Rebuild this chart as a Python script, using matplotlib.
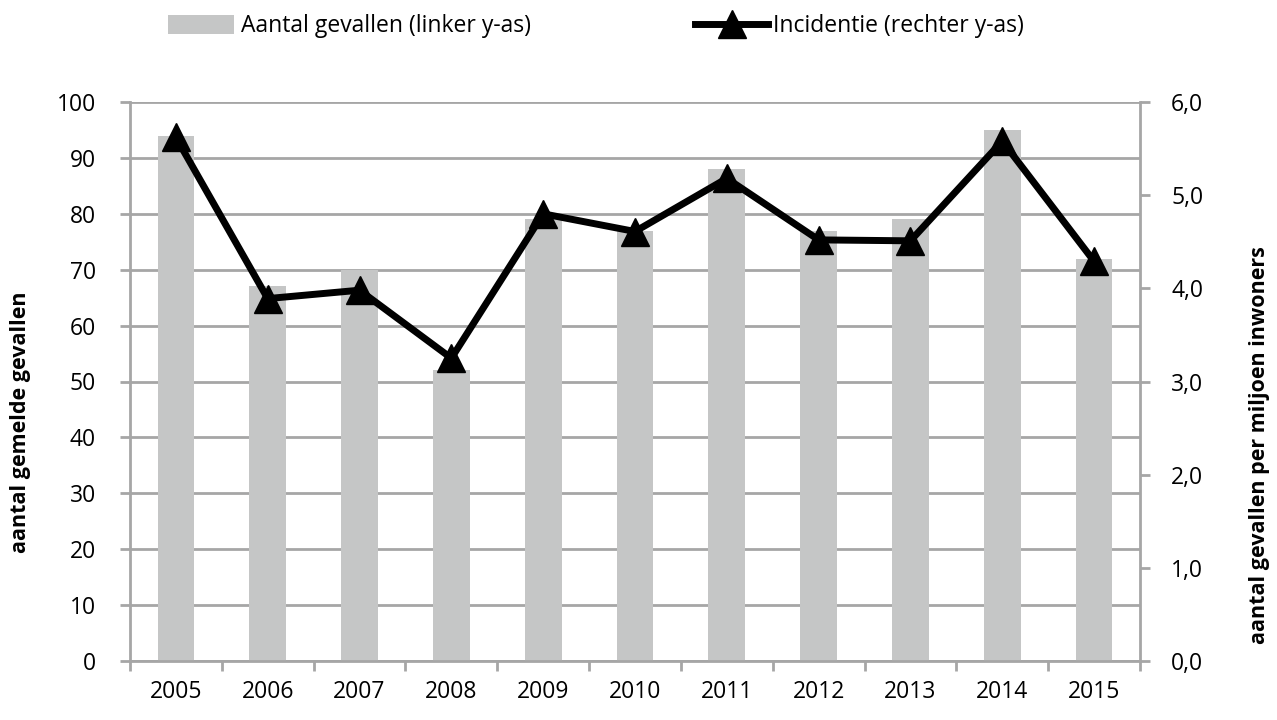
import matplotlib.pyplot as plt
from matplotlib.patches import Patch
from matplotlib.lines import Line2D
from matplotlib.ticker import FuncFormatter

plt.rcParams['font.family'] = ['Open Sans', 'DejaVu Sans']

# data per year
jaren = ["2005", "2006", "2007", "2008", "2009", "2010", "2011", "2012", "2013", "2014", "2015"]
aantal_gevallen = [94, 67, 70, 52, 79, 77, 88, 77, 79, 95, 72]
incidentie = [5.62, 3.89, 3.98, 3.25, 4.80, 4.61, 5.18, 4.52, 4.51, 5.58, 4.29]

grijs = "#a6a6a6"
bar_kleur = "#c5c6c6"
W, H = 1277, 720

fig = plt.figure(figsize=(W / 100, H / 100), dpi=100)
ax = fig.add_axes([130 / W, 1 - 661 / H, 1010 / W, 559 / H])
ax2 = ax.twinx()

x = range(len(jaren))

# bars for the number of cases (left axis)
ax.bar(x, aantal_gevallen, width=0.4, color=bar_kleur, zorder=2)
ax.set_xlim(-0.5, len(jaren) - 0.5)
ax.set_ylim(0, 100)
ax.set_yticks(range(0, 101, 10))
ax.yaxis.grid(True, color=grijs, linewidth=2, zorder=0)
ax.set_axisbelow(True)

# line for incidence (right axis)
ax2.plot(x, incidentie, color="black", linewidth=5, marker="^", markersize=20, zorder=3)
ax2.set_ylim(0, 6)
ax2.set_yticks([0, 1, 2, 3, 4, 5, 6])
ax2.yaxis.set_major_formatter(FuncFormatter(lambda v, p: f"{v:.1f}".replace(".", ",")))

# x axis: labels in the middle, tick marks between the years
ax.set_xticks(list(x))
ax.set_xticklabels(jaren)
ax.set_xticks([i - 0.5 for i in range(len(jaren) + 1)], minor=True)
ax.tick_params(axis="x", which="major", length=0, pad=14, labelsize=16.5)
ax.tick_params(axis="x", which="minor", length=7.5, width=2, color=grijs)
ax.tick_params(axis="y", length=7.5, width=2, color=grijs, labelsize=16.5, pad=17)
ax2.tick_params(axis="y", length=7.5, width=2, color=grijs, labelsize=16.5, pad=15)

for a in (ax, ax2):
    for s in a.spines.values():
        s.set_visible(False)
for a, side in ((ax, "left"), (ax, "bottom"), (ax2, "right")):
    a.spines[side].set_visible(True)
    a.spines[side].set_color(grijs)
    a.spines[side].set_linewidth(2)

ax.set_ylabel("aantal gemelde gevallen", fontsize=15.5, fontweight="bold")
ax.yaxis.set_label_coords((31 - 130) / 1010, (661 - 422) / 559)
ax2.set_ylabel("aantal gevallen per miljoen inwoners", fontsize=15.5, fontweight="bold",
               rotation=90)
ax2.yaxis.set_label_coords((1249 - 130) / 1010, (661 - 445) / 559)

# legend above the plot, one entry each
bars_handle = Patch(facecolor=bar_kleur, edgecolor="none", label="Aantal gevallen (linker y-as)")
line_handle = Line2D([0], [0], color="black", linewidth=5, marker="^", markersize=20,
                     label="Incidentie (rechter y-as)")
fig.legend(handles=[bars_handle], loc="center left", bbox_to_anchor=(168 / W, 1 - 26 / H),
           frameon=False, fontsize=16.5, handlelength=2.9, handleheight=0.9,
           handletextpad=0.3, borderpad=0, borderaxespad=0)
fig.legend(handles=[line_handle], loc="center left", bbox_to_anchor=(695 / W, 1 - 26 / H),
           frameon=False, fontsize=16.5, handlelength=3.2,
           handletextpad=0.2, borderpad=0, borderaxespad=0)

fig.savefig("out.png", dpi=100)
